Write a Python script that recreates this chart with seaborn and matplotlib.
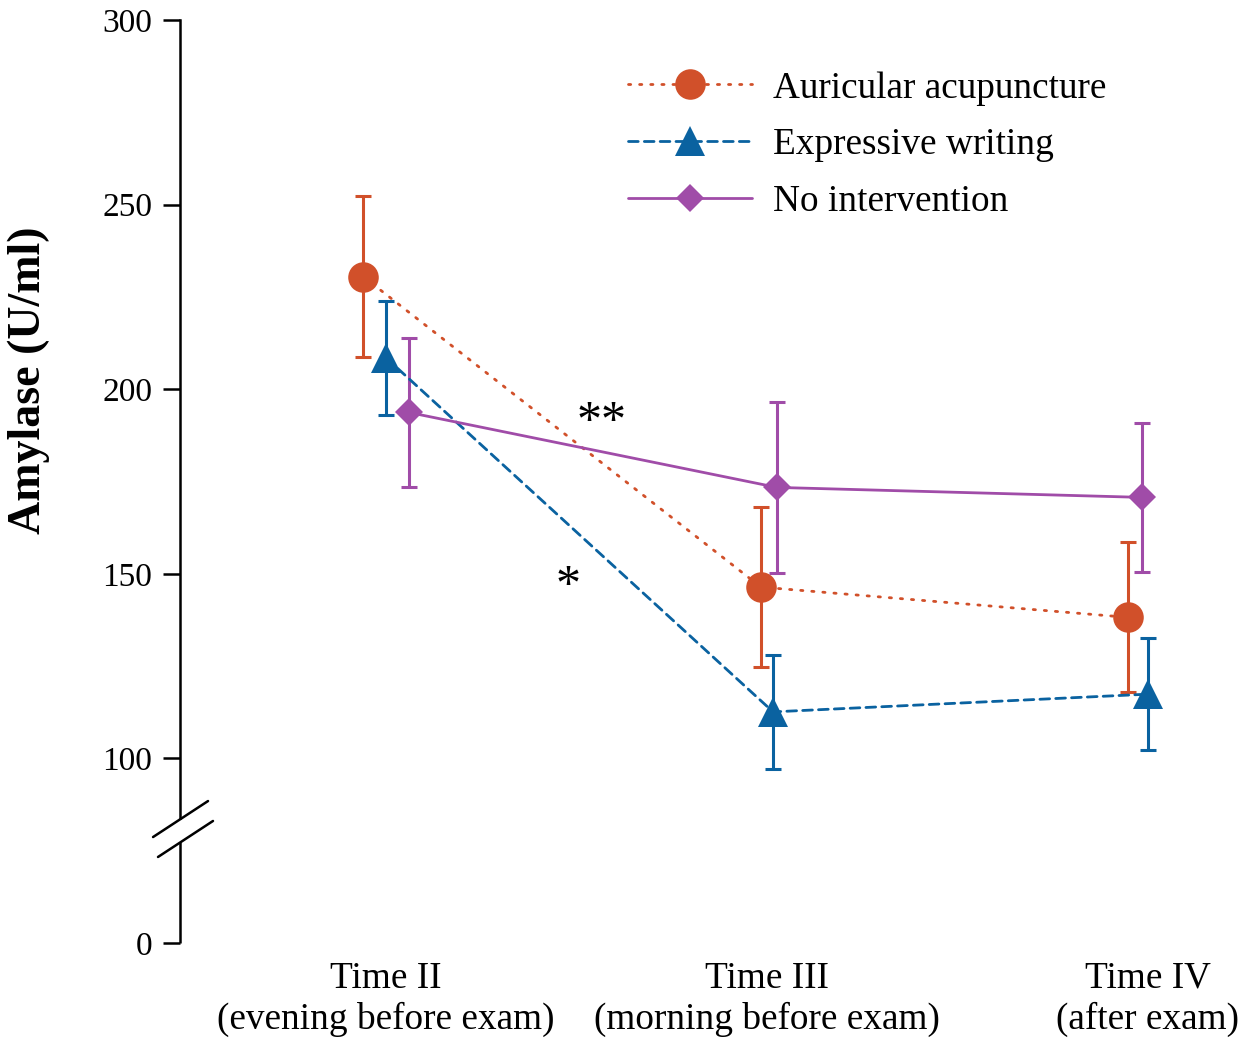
import numpy as np
import matplotlib
matplotlib.use("Agg")
import matplotlib.pyplot as plt
import matplotlib.transforms as mtransforms
import seaborn as sns

# data (mean and error bar half-length, U/ml)
times = ["Time II\n(evening before exam)", "Time III\n(morning before exam)", "Time IV\n(after exam)"]
groups = ["Auricular acupuncture", "Expressive writing", "No intervention"]
acu_mean = [230.5, 146.4, 138.2]
acu_err = [21.8, 21.7, 20.3]
ew_mean = [208.5, 112.6, 117.4]
ew_err = [15.4, 15.4, 15.2]
ni_mean = [193.7, 173.4, 170.7]
ni_err = [20.2, 23.1, 20.2]

means = {"Auricular acupuncture": acu_mean, "Expressive writing": ew_mean, "No intervention": ni_mean}
errs = {"Auricular acupuncture": acu_err, "Expressive writing": ew_err, "No intervention": ni_err}

# small horizontal dodge of each group around the time point
dodge = {"Auricular acupuncture": [-0.060, -0.016, -0.052],
         "Expressive writing": [0.0, 0.016, 0.0],
         "No intervention": [0.060, 0.026, -0.016]}

styles = {"Auricular acupuncture": dict(color="#D1502A", ls=(0, (0.8, 3.2)), marker="o", ms=22),
          "Expressive writing": dict(color="#0A62A0", ls=(0, (3.5, 2.2)), marker="^", ms=21),
          "No intervention": dict(color="#A04CA8", ls="-", marker="D", ms=14)}

sns.set_theme(style="white")
plt.rcParams["font.family"] = ["Liberation Serif", "DejaVu Serif"]
plt.rcParams["text.color"] = "black"
plt.rcParams["axes.labelcolor"] = "black"
plt.rcParams["xtick.color"] = "black"
plt.rcParams["ytick.color"] = "black"


# broken y axis: 0-90 squeezed, 90-300 linear
def fwd(v):
    v = np.asarray(v, dtype=float)
    return np.where(v < 90, v * 0.8 / 90, 1 + (v - 100) / 50)


def inv(u):
    u = np.asarray(u, dtype=float)
    return np.where(u < 0.8, u * 90 / 0.8, 100 + (u - 1) * 50)


fig = plt.figure(figsize=(12.58, 10.38), dpi=100)
ax = fig.add_axes([180 / 1258, 1 - 943 / 1038, 1078 / 1258, 923 / 1038])
ax.set_yscale("function", functions=(fwd, inv))

base_x = np.arange(len(times))
for g in groups:
    st = styles[g]
    xs = base_x + np.array(dodge[g])
    ax.errorbar(xs, means[g], yerr=errs[g], fmt="none", ecolor=st["color"],
                elinewidth=2.2, capsize=6, capthick=2.2, zorder=2)
    sns.lineplot(x=xs, y=means[g], ax=ax, color=st["color"], linestyle=st["ls"],
                 linewidth=2.0, marker=st["marker"], markersize=st["ms"],
                 markeredgewidth=0, label=g, zorder=3, dash_capstyle="round")

ax.set_xlim(-0.541, 2.289)
ax.set_ylim(0, 300)
ax.set_yticks([0, 100, 150, 200, 250, 300])
ax.set_yticklabels(["0", "100", "150", "200", "250", "300"])
ax.set_xticks(base_x)
ax.set_xticklabels(times, linespacing=1.22)
ax.tick_params(axis="y", length=12, width=1.8, color="black", pad=8, labelsize=24, direction="out", left=True)
ax.tick_params(axis="x", length=0, pad=13, labelsize=26.8)
ax.set_ylabel("Amylase (U/ml)", fontsize=33, fontweight="bold")
ax.yaxis.set_label_coords(-0.121, 0.61)

for s in ["top", "right", "bottom"]:
    ax.spines[s].set_visible(False)
ax.spines["left"].set_color("black")
ax.spines["left"].set_linewidth(1.8)
ax.spines["left"].set_bounds(76, 300)
tr = mtransforms.blended_transform_factory(ax.transAxes, ax.transData)
ax.plot([0, 0], [0, 61.5], transform=tr, color="black", lw=1.8, clip_on=False, solid_capstyle="butt")
# break marks
ax.plot([-0.0250, 0.0260], [0.1148, 0.1538], transform=ax.transAxes, color="black", lw=1.8, clip_on=False)
ax.plot([-0.0204, 0.0306], [0.0932, 0.1322], transform=ax.transAxes, color="black", lw=1.8, clip_on=False)

# significance marks
ax.text(0.566, 191, "**", fontsize=36, ha="center", va="center")
ax.text(0.478, 146.5, "*", fontsize=36, ha="center", va="center")

leg = ax.legend(loc="upper left", bbox_to_anchor=(628 / 1258, 1 - 71 / 1038),
                bbox_transform=fig.transFigure, frameon=False, fontsize=26.8,
                handlelength=3.33, handletextpad=0.56, labelspacing=0.6, borderpad=0,
                borderaxespad=0)

fig.savefig("out.png", dpi=100)
